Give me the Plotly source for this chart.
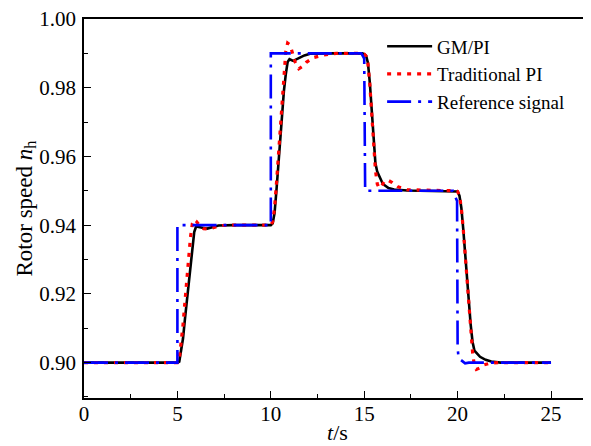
import plotly.graph_objects as go

# ---- data ----
t_gm = [0, 5.0, 5.1, 5.2, 5.3, 5.4, 5.5, 5.6, 5.7, 5.8, 5.9, 6.0, 6.2, 6.4, 6.6, 6.9, 7.2, 8.0, 10.0,
        10.1, 10.2, 10.3, 10.4, 10.5, 10.6, 10.7, 10.8, 10.9, 11.0, 11.2, 11.5, 11.8, 12.1, 12.5, 13.0, 14.9,
        15.0, 15.1, 15.2, 15.3, 15.4, 15.5, 15.6, 15.7, 15.8, 16.0, 16.3, 16.6, 17.3, 19.9,
        20.0, 20.1, 20.2, 20.3, 20.4, 20.5, 20.6, 20.7, 20.8, 20.9, 21.2, 21.5, 21.8, 22.3, 25.0]
v_gm = [0.900, 0.900, 0.9003, 0.9035, 0.907, 0.9125, 0.918, 0.9235, 0.929, 0.9345, 0.938, 0.9396, 0.9395, 0.9392, 0.9390, 0.9394, 0.9399, 0.9400, 0.9400,
        0.9405, 0.9435, 0.9500, 0.9575, 0.9650, 0.9725, 0.9790, 0.9838, 0.9875, 0.9883, 0.9878, 0.9886, 0.9894, 0.9899, 0.9900, 0.9900, 0.9900,
        0.9898, 0.9893, 0.9872, 0.9815, 0.9725, 0.9640, 0.9580, 0.9555, 0.9542, 0.9520, 0.9508, 0.9504, 0.9501, 0.9500,
        0.9498, 0.9485, 0.9450, 0.9390, 0.9320, 0.9240, 0.9170, 0.9110, 0.9060, 0.9035, 0.9017, 0.9008, 0.9003, 0.9000, 0.9000]

t_pi = [0, 5.0, 5.1, 5.2, 5.3, 5.4, 5.5, 5.6, 5.7, 5.8, 5.9, 6.0, 6.2, 6.4, 6.7, 7.0, 7.4, 8.0, 10.0,
        10.1, 10.2, 10.3, 10.4, 10.5, 10.6, 10.7, 10.8, 10.9, 11.0, 11.1, 11.3, 11.5, 11.7, 11.9, 12.3, 12.8, 13.5, 14.9,
        15.0, 15.1, 15.2, 15.3, 15.4, 15.5, 15.6, 15.7, 15.8, 15.95, 16.1, 16.3, 16.5, 16.8, 17.3, 19.9,
        20.0, 20.1, 20.2, 20.3, 20.4, 20.5, 20.6, 20.7, 20.8, 20.9, 21.0, 21.2, 21.4, 21.7, 22.2, 25.0]
v_pi = [0.900, 0.900, 0.9010, 0.9055, 0.911, 0.9175, 0.924, 0.9305, 0.9365, 0.9405, 0.9416, 0.9412, 0.9398, 0.9390, 0.9389, 0.9394, 0.9399, 0.9400, 0.9400,
        0.9410, 0.9450, 0.9520, 0.9600, 0.9680, 0.9760, 0.9840, 0.9905, 0.9930, 0.9926, 0.9912, 0.9875, 0.9855, 0.9862, 0.9874, 0.9888, 0.9895, 0.9900, 0.9900,
        0.9898, 0.9892, 0.9870, 0.9810, 0.9720, 0.9630, 0.9560, 0.9520, 0.9508, 0.9515, 0.9530, 0.9530, 0.9524, 0.9512, 0.9503, 0.9500,
        0.9498, 0.9485, 0.9450, 0.9390, 0.9320, 0.9240, 0.9165, 0.9095, 0.9030, 0.8990, 0.8980, 0.8985, 0.8993, 0.8998, 0.9000, 0.9000]

t_ref = [0, 5.0, 5.0, 10.0, 10.0, 14.85, 15.0, 15.05, 19.75, 19.97, 20.0, 20.05, 20.4, 20.6, 25.0]
v_ref = [0.900, 0.900, 0.940, 0.940, 0.990, 0.990, 0.9885, 0.950, 0.950, 0.947, 0.9045, 0.9013, 0.8998, 0.9000, 0.9000]

names = ["GM/PI", "Traditional PI", "Reference signal"]

x_ticks = [0, 5, 10, 15, 20, 25]
y_ticks = [0.90, 0.92, 0.94, 0.96, 0.98, 1.00]

FONT = "Liberation Serif"

fig = go.Figure()
fig.add_trace(go.Scatter(x=t_gm, y=v_gm, mode="lines", name=names[0],
                         line=dict(color="black", width=2.6)))
fig.add_trace(go.Scatter(x=t_pi, y=v_pi, mode="lines", name=names[1],
                         line=dict(color="#ff0000", width=3.2, dash="4px,6px")))
fig.add_trace(go.Scatter(x=t_ref, y=v_ref, mode="lines", name=names[2],
                         line=dict(color="#0000ff", width=2.6, dash="24px,7px,3px,7px")))

# page body has an 8px margin: figure is 8px smaller so it fits the window
fig.update_layout(
    width=583, height=438,
    margin=dict(l=76, r=0, t=11, b=48),
    paper_bgcolor="white", plot_bgcolor="white",
    font=dict(family=FONT, size=21, color="black"),
    showlegend=True,
    legend=dict(x=0.588, y=0.978, xanchor="left", yanchor="top",
                bgcolor="rgba(0,0,0,0)", font=dict(family=FONT, size=19),
                itemwidth=45, tracegroupgap=0),
    annotations=[
        dict(text="Rotor speed <i>n</i><sub>h</sub>", textangle=-90,
             xref="paper", yref="paper", x=0, y=0.5, xanchor="center", yanchor="middle",
             xshift=-59, showarrow=False, font=dict(family=FONT, size=23)),
        dict(text="<i>t</i>/s",
             xref="paper", yref="paper", x=0.5, y=0, xanchor="center", yanchor="middle",
             yshift=-34, showarrow=False, font=dict(family=FONT, size=22)),
    ],
)
fig.update_xaxes(
    range=[0, 27.14], tickvals=x_ticks, ticktext=[str(v) for v in x_ticks],
    ticks="inside", ticklen=7, tickwidth=1.3, tickcolor="black",
    minor=dict(dtick=2.5, ticks="inside", ticklen=4, tickwidth=1.3, tickcolor="black"),
    showline=True, linecolor="black", linewidth=1.5, mirror=True,
    showgrid=False, zeroline=False, ticklabelstandoff=-4, automargin=False,
    ticklabeloverflow="allow",
    tickfont=dict(family=FONT, size=21),
)
fig.update_yaxes(
    range=[0.8897, 1.0], tickvals=y_ticks, ticktext=["%.2f" % v for v in y_ticks],
    ticks="inside", ticklen=7, tickwidth=1.3, tickcolor="black",
    minor=dict(dtick=0.01, ticks="inside", ticklen=4, tickwidth=1.3, tickcolor="black"),
    showline=True, linecolor="black", linewidth=1.5,
    showgrid=False, zeroline=False, ticklabelstandoff=2, automargin=False,
    ticklabeloverflow="allow",
    tickfont=dict(family=FONT, size=21),
)

fig.write_html("out.html")
